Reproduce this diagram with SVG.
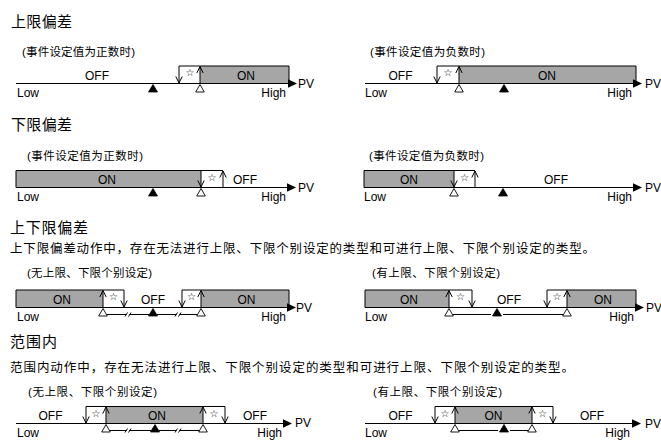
<svg xmlns="http://www.w3.org/2000/svg" width="661" height="440" viewBox="0 0 661 440">
<style>
.ax{stroke:#000;stroke-width:1.2;fill:none}
.ln{stroke:#000;stroke-width:1;fill:none}
.ar{stroke:#000;stroke-width:1;fill:none;marker-end:url(#ha)}
.g{fill:#a6a6a6}
.hd{fill:#000}
.tf{fill:#000;stroke:#000;stroke-width:0.8}
.to{fill:#fff;stroke:#000;stroke-width:0.9}
.l{font-family:"Liberation Sans",Arial,sans-serif;font-size:12px;fill:#000}
.c{text-anchor:middle}
.e{text-anchor:end}
.t{font-family:"Noto Sans CJK SC","Noto Sans CJK JP",sans-serif;font-size:15px;fill:#000}
.s{font-family:"Liberation Sans","Noto Sans CJK SC",sans-serif;font-size:11.5px;fill:#000}
.d{font-family:"Noto Sans CJK SC","Noto Sans CJK JP",sans-serif;font-size:12.5px;fill:#000}
.st{font-family:"DejaVu Sans",sans-serif;font-size:10px;text-anchor:middle;fill:#000}
</style>
<defs>
<marker id="ha" viewBox="0 0 8 8" refX="7.5" refY="4" markerWidth="8" markerHeight="8" markerUnits="userSpaceOnUse" orient="auto">
<path d="M1,0.8 L7.5,4 L1,7.2" fill="none" stroke="#000" stroke-width="1"/>
</marker>
</defs>

<g id="titles">
<text class="t" x="11" y="27" textLength="61" lengthAdjust="spacing">上限偏差</text>
<text class="t" x="11" y="130" textLength="61" lengthAdjust="spacing">下限偏差</text>
<text class="t" x="10" y="232.5" textLength="78" lengthAdjust="spacing">上下限偏差</text>
<text class="d" x="10" y="252.5" textLength="585" lengthAdjust="spacing">上下限偏差动作中，存在无法进行上限、下限个别设定的类型和可进行上限、下限个别设定的类型。</text>
<text class="t" x="10" y="347" textLength="47" lengthAdjust="spacing">范围内</text>
<text class="d" x="10" y="371.5" textLength="564" lengthAdjust="spacing">范围内动作中，存在无法进行上限、下限个别设定的类型和可进行上限、下限个别设定的类型。</text>
<text class="s" x="22" y="56" textLength="113" lengthAdjust="spacing">(事件设定值为正数时)</text>
<text class="s" x="370" y="56" textLength="115" lengthAdjust="spacing">(事件设定值为负数时)</text>
<text class="s" x="27" y="160" textLength="116" lengthAdjust="spacing">(事件设定值为正数时)</text>
<text class="s" x="369" y="160" textLength="115" lengthAdjust="spacing">(事件设定值为负数时)</text>
<text class="s" x="27" y="276.5" textLength="125" lengthAdjust="spacing">(无上限、下限个别设定)</text>
<text class="s" x="372" y="276.5" textLength="128" lengthAdjust="spacing">(有上限、下限个别设定)</text>
<text class="s" x="28" y="396" textLength="129" lengthAdjust="spacing">(无上限、下限个别设定)</text>
<text class="s" x="373" y="396" textLength="129" lengthAdjust="spacing">(有上限、下限个别设定)</text>
</g>

<!-- Row 1 left -->
<g id="r1l">
<rect class="g" x="200" y="66" width="89" height="17.5"/>
<path class="ln" d="M179,66 H289 V83.5"/>
<line class="ar" x1="179" y1="66" x2="179" y2="83"/>
<line class="ar" x1="200" y1="83.5" x2="200" y2="66.5"/>
<text class="st" x="190" y="76">☆</text>
<line class="ax" x1="16" y1="83.5" x2="289" y2="83.5"/>
<polygon class="hd" points="288,79.3 297,83.5 288,87.7"/>
<polygon class="tf" points="153,84.5 148.5,92 157.5,92"/>
<polygon class="to" points="200,84.5 195.7,92 204.3,92"/>
<text class="l c" x="97" y="80">OFF</text>
<text class="l c" x="246" y="80">ON</text>
<text class="l" x="17" y="96.8">Low</text>
<text class="l e" x="286" y="96.8">High</text>
<text class="l" x="298" y="87.5">PV</text>
</g>

<!-- Row 1 right -->
<g id="r1r">
<rect class="g" x="459" y="66" width="177" height="17.5"/>
<path class="ln" d="M437,66 H636 V83.5"/>
<line class="ar" x1="437" y1="66" x2="437" y2="83"/>
<line class="ar" x1="459" y1="83.5" x2="459" y2="66.5"/>
<text class="st" x="448" y="76">☆</text>
<line class="ax" x1="365" y1="83.5" x2="634" y2="83.5"/>
<polygon class="hd" points="633,79.3 642,83.5 633,87.7"/>
<polygon class="to" points="459,84.5 454.7,92 463.3,92"/>
<polygon class="tf" points="504,84.5 499.5,92 508.5,92"/>
<text class="l c" x="400.5" y="80">OFF</text>
<text class="l c" x="547" y="80">ON</text>
<text class="l" x="365" y="96.8">Low</text>
<text class="l e" x="632" y="96.8">High</text>
<text class="l" x="645" y="87.5">PV</text>
</g>

<!-- Row 2 left -->
<g id="r2l">
<rect class="g" x="16" y="170.5" width="185" height="17"/>
<path class="ln" d="M16,187.5 V170.5 H223"/>
<line class="ar" x1="201" y1="170.5" x2="201" y2="187"/>
<line class="ar" x1="223" y1="187.5" x2="223" y2="171"/>
<text class="st" x="212" y="180.5">☆</text>
<line class="ax" x1="16" y1="187.5" x2="288" y2="187.5"/>
<polygon class="hd" points="287,183.3 296,187.5 287,191.7"/>
<polygon class="tf" points="153,188.5 148.5,196 157.5,196"/>
<polygon class="to" points="201,188.5 196.7,196 205.3,196"/>
<text class="l c" x="107" y="184">ON</text>
<text class="l c" x="245" y="184">OFF</text>
<text class="l" x="17" y="200.8">Low</text>
<text class="l e" x="286" y="200.8">High</text>
<text class="l" x="298" y="191.5">PV</text>
</g>

<!-- Row 2 right -->
<g id="r2r">
<rect class="g" x="364" y="170.5" width="90" height="17"/>
<path class="ln" d="M364,187.5 V170.5 H475"/>
<line class="ar" x1="454" y1="170.5" x2="454" y2="187"/>
<line class="ar" x1="475" y1="187.5" x2="475" y2="171"/>
<text class="st" x="464.5" y="180.5">☆</text>
<line class="ax" x1="364" y1="187.5" x2="634" y2="187.5"/>
<polygon class="hd" points="633,183.3 642,187.5 633,191.7"/>
<polygon class="to" points="454,188.5 449.7,196 458.3,196"/>
<polygon class="tf" points="503,188.5 498.5,196 507.5,196"/>
<text class="l c" x="409" y="184">ON</text>
<text class="l c" x="556" y="184">OFF</text>
<text class="l" x="364" y="200.8">Low</text>
<text class="l e" x="632" y="200.8">High</text>
<text class="l" x="645" y="191.5">PV</text>
</g>

<!-- Row 3 left -->
<g id="r3l">
<rect class="g" x="16" y="290" width="87" height="17.5"/>
<rect class="g" x="201" y="290" width="88" height="17.5"/>
<path class="ln" d="M16,307.5 V290 H124"/>
<path class="ln" d="M182,290 H289 V307.5"/>
<line class="ar" x1="103" y1="307.5" x2="103" y2="290.5"/>
<line class="ar" x1="124" y1="290" x2="124" y2="307"/>
<line class="ar" x1="182" y1="290" x2="182" y2="307"/>
<line class="ar" x1="201" y1="307.5" x2="201" y2="290.5"/>
<text class="st" x="113.5" y="300">☆</text>
<text class="st" x="191.5" y="300">☆</text>
<line class="ax" x1="16" y1="307.5" x2="288" y2="307.5"/>
<polygon class="hd" points="287,303.3 296,307.5 287,311.7"/>
<path class="ln" d="M107,314.5 H126.5 M129.5,314.5 H149 M157,314.5 H176.5 M179.5,314.5 H197"/>
<path class="ln" d="M125,316.5 L127.5,312.5 M128.5,316.5 L131,312.5 M175,316.5 L177.5,312.5 M178.5,316.5 L181,312.5"/>
<polygon class="to" points="103,308.5 98.7,316 107.3,316"/>
<polygon class="tf" points="153,308.5 148.5,316 157.5,316"/>
<polygon class="to" points="201,308.5 196.7,316 205.3,316"/>
<text class="l c" x="62" y="304">ON</text>
<text class="l c" x="153" y="304">OFF</text>
<text class="l c" x="246.5" y="304">ON</text>
<text class="l" x="17" y="320.8">Low</text>
<text class="l e" x="286" y="320.8">High</text>
<text class="l" x="296" y="311.5">PV</text>
</g>

<!-- Row 3 right -->
<g id="r3r">
<rect class="g" x="365" y="290" width="84" height="17.5"/>
<rect class="g" x="567" y="290" width="69" height="17.5"/>
<path class="ln" d="M365,307.5 V290 H472"/>
<path class="ln" d="M547,290 H636 V307.5"/>
<line class="ar" x1="449" y1="307.5" x2="449" y2="290.5"/>
<line class="ar" x1="472" y1="290" x2="472" y2="307"/>
<line class="ar" x1="547" y1="290" x2="547" y2="307"/>
<line class="ar" x1="567" y1="307.5" x2="567" y2="290.5"/>
<text class="st" x="460.5" y="300">☆</text>
<text class="st" x="557" y="300">☆</text>
<line class="ax" x1="365" y1="307.5" x2="636" y2="307.5"/>
<polygon class="hd" points="635,303.3 644,307.5 635,311.7"/>
<path class="ln" d="M453,314.5 H491 M503,314.5 H563"/>
<polygon class="to" points="449,308.5 444.7,316 453.3,316"/>
<polygon class="tf" points="497,308.5 492.5,316 501.5,316"/>
<polygon class="to" points="567,308.5 562.7,316 571.3,316"/>
<text class="l c" x="409" y="304">ON</text>
<text class="l c" x="509" y="304">OFF</text>
<text class="l c" x="603" y="304">ON</text>
<text class="l" x="365" y="320.8">Low</text>
<text class="l e" x="634" y="320.8">High</text>
<text class="l" x="646" y="311.5">PV</text>
</g>

<!-- Row 4 left -->
<g id="r4l">
<rect class="g" x="106" y="406.5" width="97" height="17"/>
<path class="ln" d="M86,406.5 H225"/>
<line class="ar" x1="86" y1="406.5" x2="86" y2="423"/>
<line class="ar" x1="106" y1="423.5" x2="106" y2="407"/>
<line class="ar" x1="203" y1="423.5" x2="203" y2="407"/>
<line class="ar" x1="225" y1="406.5" x2="225" y2="423"/>
<text class="st" x="96" y="416.5">☆</text>
<text class="st" x="214" y="416.5">☆</text>
<line class="ax" x1="16" y1="423.5" x2="284" y2="423.5"/>
<polygon class="hd" points="283,419.3 292,423.5 283,427.7"/>
<path class="ln" d="M110,430.5 H126.5 M129.5,430.5 H151 M159,430.5 H176.5 M179.5,430.5 H199"/>
<path class="ln" d="M125,432.5 L127.5,428.5 M128.5,432.5 L131,428.5 M175,432.5 L177.5,428.5 M178.5,432.5 L181,428.5"/>
<polygon class="to" points="106,424.5 101.7,432 110.3,432"/>
<polygon class="tf" points="155,424.5 150.5,432 159.5,432"/>
<polygon class="to" points="203,424.5 198.7,432 207.3,432"/>
<text class="l c" x="50.5" y="420">OFF</text>
<text class="l c" x="157" y="420">ON</text>
<text class="l c" x="255" y="420">OFF</text>
<text class="l" x="17" y="436.8">Low</text>
<text class="l e" x="282" y="436.8">High</text>
<text class="l" x="295" y="426.5">PV</text>
</g>

<!-- Row 4 right -->
<g id="r4r">
<rect class="g" x="455" y="406.5" width="77" height="17"/>
<path class="ln" d="M435,406.5 H553"/>
<line class="ar" x1="435" y1="406.5" x2="435" y2="423"/>
<line class="ar" x1="455" y1="423.5" x2="455" y2="407"/>
<line class="ar" x1="532" y1="423.5" x2="532" y2="407"/>
<line class="ar" x1="553" y1="406.5" x2="553" y2="423"/>
<text class="st" x="445" y="416.5">☆</text>
<text class="st" x="542.5" y="416.5">☆</text>
<line class="ax" x1="365" y1="423.5" x2="633" y2="423.5"/>
<polygon class="hd" points="632,419.3 641,423.5 632,427.7"/>
<path class="ln" d="M459,430.5 H498 M510,430.5 H528"/>
<polygon class="to" points="455,424.5 450.7,432 459.3,432"/>
<polygon class="tf" points="504,424.5 499.5,432 508.5,432"/>
<polygon class="to" points="532,424.5 527.7,432 536.3,432"/>
<text class="l c" x="400.5" y="420">OFF</text>
<text class="l c" x="493.5" y="420">ON</text>
<text class="l c" x="592" y="420">OFF</text>
<text class="l" x="365" y="436.8">Low</text>
<text class="l e" x="630" y="436.8">High</text>
<text class="l" x="645" y="427.5">PV</text>
</g>
</svg>
